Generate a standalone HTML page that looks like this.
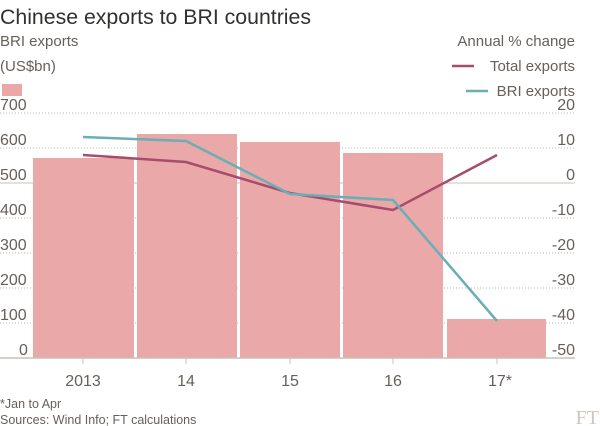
<!DOCTYPE html>
<html><head><meta charset="utf-8"><style>
body{margin:0;background:#fff;width:600px;height:426px;overflow:hidden}
svg{display:block;font-family:"Liberation Sans",sans-serif}
</style></head><body>
<svg width="600" height="426" viewBox="0 0 600 426">
<text x="0" y="24" font-size="21" fill="#33302e" textLength="311" lengthAdjust="spacingAndGlyphs">Chinese exports to BRI countries</text>
<g font-size="15" fill="#66605c">
<text x="0" y="46">BRI exports</text>
<text x="0" y="71">(US$bn)</text>
<text x="575" y="46" text-anchor="end">Annual % change</text>
<text x="575" y="71" text-anchor="end">Total exports</text>
<text x="575" y="96" text-anchor="end">BRI exports</text>
</g>
<rect x="2" y="84" width="20" height="12" fill="#eaa8a8"/>
<line x1="452" y1="66" x2="474" y2="66" stroke="#a64c6e" stroke-width="2.5"/>
<line x1="466" y1="91" x2="488" y2="91" stroke="#6aaeb8" stroke-width="2.5"/>
<g stroke="#bdb6ae" stroke-dasharray="1,2" stroke-width="1">
<line x1="0" y1="113" x2="575" y2="113"/><line x1="0" y1="148" x2="575" y2="148"/>
<line x1="0" y1="218" x2="575" y2="218"/><line x1="0" y1="253" x2="575" y2="253"/>
<line x1="0" y1="288" x2="575" y2="288"/><line x1="0" y1="323" x2="575" y2="323"/>
</g>
<line x1="0" y1="183" x2="575" y2="183" stroke="#c8c0b8"/>
<g fill="#eaa8a8">
<rect x="33" y="158" width="101" height="200"/>
<rect x="137" y="134" width="100" height="224"/>
<rect x="240" y="142" width="100" height="216"/>
<rect x="343" y="153" width="100" height="205"/>
<rect x="447" y="319" width="99" height="39"/>
</g>
<line x1="0" y1="358" x2="575" y2="358" stroke="#c8c0b8" stroke-width="1.5"/>
<g stroke="#c8c0b8"><line x1="83" y1="358" x2="83" y2="364"/><line x1="186" y1="358" x2="186" y2="364"/><line x1="290" y1="358" x2="290" y2="364"/><line x1="393" y1="358" x2="393" y2="364"/><line x1="497" y1="358" x2="497" y2="364"/></g>
<polyline points="83,155 186,162 290,193 393,210 497,155" fill="none" stroke="#a64c6e" stroke-width="2.5"/>
<polyline points="83,137 186,141 290,194 393,200 497,321" fill="none" stroke="#6aaeb8" stroke-width="2.5"/>
<g font-size="16" fill="#66605c">
<text x="0" y="110">700</text><text x="0" y="145">600</text><text x="0" y="180">500</text><text x="0" y="215">400</text><text x="0" y="250">300</text><text x="0" y="285">200</text><text x="0" y="320">100</text><text x="19" y="355">0</text>
<g text-anchor="end"><text x="575" y="110">20</text><text x="575" y="145">10</text><text x="575" y="180">0</text><text x="575" y="215">-10</text><text x="575" y="250">-20</text><text x="575" y="285">-30</text><text x="575" y="320">-40</text><text x="575" y="355">-50</text></g>
<g text-anchor="middle"><text x="83" y="386">2013</text><text x="186" y="386">14</text><text x="290" y="386">15</text><text x="393" y="386">16</text><text x="500" y="386">17*</text></g>
</g>
<g font-size="12.5" fill="#66605c"><text x="0" y="408">*Jan to Apr</text><text x="0" y="424">Sources: Wind Info; FT calculations</text></g>
<text x="599" y="424" text-anchor="end" font-size="20" font-family="Liberation Serif,serif" fill="#cec6be">FT</text>
</svg>
</body></html>
